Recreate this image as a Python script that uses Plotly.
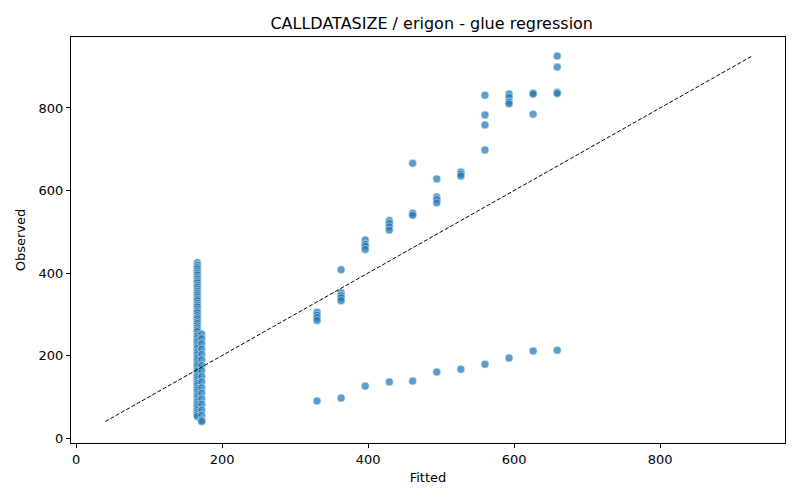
import plotly.graph_objects as go

# column of low fitted values (two close groups)
fit_a = 166
obs_a = [425, 419, 414, 410, 404, 399, 395, 389, 385, 380, 376, 370, 366, 361, 356, 351,
         347, 342, 337, 333, 327, 322, 318, 312, 307, 303, 297, 292, 288, 282, 278, 272,
         267, 262, 258, 251, 247, 242, 236, 232, 226, 221, 217, 211, 207, 202, 196, 192,
         187, 181, 177, 172, 166, 162, 157, 151, 147, 142, 136, 132, 127, 121, 117, 112,
         106, 102, 97, 91, 87, 82, 77, 72, 67, 62, 57, 52]
fit_b = 172
obs_b = [252, 241, 229, 216, 203, 190, 176, 163, 149, 136, 122, 109, 95, 82, 68, 55, 44, 40]

# upper groups
fitted_hi = [330, 330, 330, 330, 363, 363, 363, 363, 363,
             396, 396, 396, 396, 429, 429, 429, 429,
             461, 461, 461, 494, 494, 494, 494, 527, 527, 527,
             560, 560, 560, 560, 593, 593, 593, 593,
             626, 626, 626, 659, 659, 659, 659]
observed_hi = [305, 298, 292, 285, 408, 352, 345, 340, 333,
               480, 470, 465, 457, 527, 520, 512, 504,
               666, 545, 540, 628, 584, 578, 570, 645, 640, 635,
               831, 783, 759, 698, 834, 826, 815, 810,
               836, 834, 785, 926, 899, 838, 835]

# lower branch
fitted_lo = [330, 363, 396, 429, 461, 494, 527, 560, 593, 626, 659]
observed_lo = [90, 97, 126, 136, 138, 160, 167, 179, 194, 211, 213]

xs = [fit_a] * len(obs_a) + [fit_b] * len(obs_b) + fitted_hi + fitted_lo
ys = obs_a + obs_b + observed_hi + observed_lo

lo = min(min(xs), min(ys))
hi = max(max(xs), max(ys))

fig = go.Figure()
fig.add_trace(go.Scatter(
    x=xs, y=ys, mode="markers",
    marker=dict(size=8, color="rgba(31,119,180,0.72)",
                line=dict(color="rgba(255,255,255,0.8)", width=0.6)),
    showlegend=False))
fig.add_trace(go.Scatter(
    x=[lo, hi], y=[lo, hi], mode="lines",
    line=dict(color="black", width=1, dash="4px,2px"),
    showlegend=False))

fig.update_xaxes(showline=True, linecolor="black", linewidth=1.3, mirror=True,
                 ticks="outside", ticklen=4, tickcolor="black", showgrid=False,
                 zeroline=False, tickfont=dict(size=13, color="black"),
                 range=[-7, 971], tickvals=[0, 200, 400, 600, 800],
                 title=dict(text="Fitted", font=dict(size=13), standoff=7))
fig.update_yaxes(showline=True, linecolor="black", linewidth=1.3, mirror=True,
                 ticks="outside", ticklen=4, tickcolor="black", showgrid=False,
                 zeroline=False, tickfont=dict(size=13, color="black"),
                 range=[-12, 972], tickvals=[0, 200, 400, 600, 800],
                 title=dict(text="Observed", font=dict(size=13), standoff=9))

# page adds an 8px body margin, so the figure is a bit smaller than the window
fig.update_layout(
    width=792, height=492,
    margin=dict(l=63, r=15, t=29, b=57),
    plot_bgcolor="white", paper_bgcolor="white",
    font=dict(family="DejaVu Sans", color="black"),
    title=dict(text="CALLDATASIZE / erigon - glue regression", x=0.535, xanchor="center",
               y=0.9695, yanchor="middle", font=dict(size=16)),
)

fig.write_html("out.html")
